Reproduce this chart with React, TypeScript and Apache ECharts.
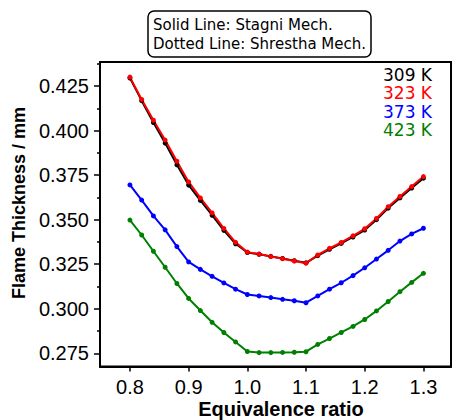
import React, { useEffect, useRef } from "react";
import * as echarts from "echarts";

// Equivalence ratio sampled every 0.02
const phi = [
  0.8, 0.82, 0.84, 0.86, 0.88, 0.9, 0.92, 0.94, 0.96, 0.98, 1.0, 1.02, 1.04,
  1.06, 1.08, 1.1, 1.12, 1.14, 1.16, 1.18, 1.2, 1.22, 1.24, 1.26, 1.28, 1.3,
];

// Flame thickness (mm) per initial temperature
const t309 = [
  0.4295, 0.4168, 0.4045, 0.393, 0.3808, 0.3694, 0.3608, 0.3525, 0.344, 0.3365,
  0.3316, 0.3306, 0.3294, 0.3282, 0.327, 0.3258, 0.3298, 0.3334, 0.3367, 0.3403,
  0.3442, 0.35, 0.3565, 0.3622, 0.3678, 0.3733,
];
const t323 = [
  0.43, 0.4175, 0.4058, 0.3947, 0.3828, 0.3712, 0.3622, 0.3538, 0.3451, 0.3373,
  0.3318, 0.3307, 0.3293, 0.3281, 0.3268, 0.3256, 0.3302, 0.3339, 0.3372, 0.3409,
  0.3449, 0.3507, 0.3573, 0.363, 0.3686, 0.3742,
];
const t373 = [
  0.3695, 0.361, 0.3521, 0.3443, 0.3349, 0.3263, 0.3221, 0.3182, 0.3145, 0.311,
  0.308, 0.3072, 0.3063, 0.3053, 0.3045, 0.3034, 0.3072, 0.311, 0.3146, 0.3186,
  0.323, 0.3279, 0.3328, 0.338, 0.342, 0.3452,
];
const t423 = [
  0.3498, 0.3414, 0.3323, 0.3233, 0.3142, 0.3058, 0.299, 0.2924, 0.2867, 0.2814,
  0.276, 0.2754, 0.2754, 0.2755, 0.2756, 0.2759, 0.28, 0.2833, 0.2867, 0.2901,
  0.294, 0.2988, 0.3041, 0.3096, 0.3148, 0.3199,
];

const tempLabels = ["309 K", "323 K", "373 K", "423 K"];
const tempColors = ["#000000", "#ff0000", "#0000ff", "#008000"];
const tempSeries = [t309, t323, t373, t423];

const xTicks = [0.8, 0.9, 1.0, 1.1, 1.2, 1.3];
const yTicks = [0.275, 0.3, 0.325, 0.35, 0.375, 0.4, 0.425];
const yMinorTicks = [0.2875, 0.3125, 0.3375, 0.3625, 0.3875, 0.4125, 0.4375];

const noteLines = ["Solid Line: Stagni Mech.", "Dotted Line: Shrestha Mech."];

const SANS = "Liberation Sans, Arial, sans-serif";
const DEJAVU = "DejaVu Sans, sans-serif";

export default function App() {
  const ref = useRef<HTMLDivElement>(null);

  useEffect(() => {
    if (!ref.current) return;
    const chart = echarts.init(ref.current, null, { renderer: "svg" });

    const yRange = { min: 0.2676, max: 0.4385 };

    chart.setOption({
      animation: false,
      backgroundColor: "#ffffff",
      title: {
        text: noteLines.join("\n"),
        left: 148,
        top: 11,
        padding: [4, 5, 4, 5],
        borderColor: "#000",
        borderWidth: 1.5,
        borderRadius: 6,
        textStyle: {
          fontFamily: DEJAVU,
          fontSize: 15,
          fontWeight: "normal",
          lineHeight: 19,
          color: "#000",
        },
      },
      grid: {
        left: 100,
        top: 62,
        width: 351,
        height: 304.5,
        show: true,
        borderColor: "#000",
        borderWidth: 2,
        backgroundColor: "transparent",
      },
      xAxis: {
        type: "value",
        min: 0.749,
        max: 1.347,
        axisLine: { show: true, onZero: false, lineStyle: { color: "#000", width: 2 } },
        axisTick: {
          show: true,
          customValues: xTicks,
          length: 5,
          lineStyle: { color: "#000", width: 1.5 },
        },
        axisLabel: {
          customValues: xTicks,
          margin: 10,
          fontFamily: SANS,
          fontSize: 20,
          color: "#000",
          formatter: (v: number) => v.toFixed(1),
        },
        splitLine: { show: false },
      },
      yAxis: [
        {
          type: "value",
          ...yRange,
          axisLine: { show: true, lineStyle: { color: "#000", width: 2 } },
          axisTick: {
            show: true,
            customValues: yTicks,
            length: 6,
            lineStyle: { color: "#000", width: 1.5 },
          },
          axisLabel: {
            customValues: yTicks,
            margin: 11,
            fontFamily: SANS,
            fontSize: 20,
            color: "#000",
            formatter: (v: number) => v.toFixed(3),
          },
          splitLine: { show: false },
        },
        {
          type: "value",
          ...yRange,
          position: "left",
          axisLine: { show: false },
          axisTick: {
            show: true,
            customValues: yMinorTicks,
            length: 3,
            lineStyle: { color: "#000", width: 1.5 },
          },
          axisLabel: { show: false },
          splitLine: { show: false },
        },
      ],
      series: tempSeries.map((vals, i) => ({
        name: tempLabels[i],
        type: "line",
        yAxisIndex: 0,
        data: phi.map((x, k) => [x, vals[k]]),
        symbol: "circle",
        symbolSize: 5,
        showSymbol: true,
        itemStyle: { color: tempColors[i] },
        lineStyle: { color: tempColors[i], width: 2 },
      })),
      graphic: [
        ...tempLabels.map((t, i) => ({
          type: "text",
          left: 383,
          top: 66.5 + i * 18.3,
          style: {
            text: t,
            fill: tempColors[i],
            font: `17px ${DEJAVU}`,
          },
        })),
        {
          type: "text",
          x: 19,
          y: 203,
          rotation: Math.PI / 2,
          style: {
            text: "Flame Thickness / mm",
            fill: "#000",
            font: `bold 18px ${SANS}`,
            align: "center",
            verticalAlign: "middle",
          },
        },
        {
          type: "text",
          x: 281,
          y: 408.5,
          style: {
            text: "Equivalence ratio",
            fill: "#000",
            font: `bold 20px ${SANS}`,
            align: "center",
            verticalAlign: "middle",
          },
        },
      ],
    });

    return () => chart.dispose();
  }, []);

  return (
    <div
      ref={ref}
      style={{ position: "fixed", left: 0, top: 0, width: 452, height: 420 }}
    />
  );
}
